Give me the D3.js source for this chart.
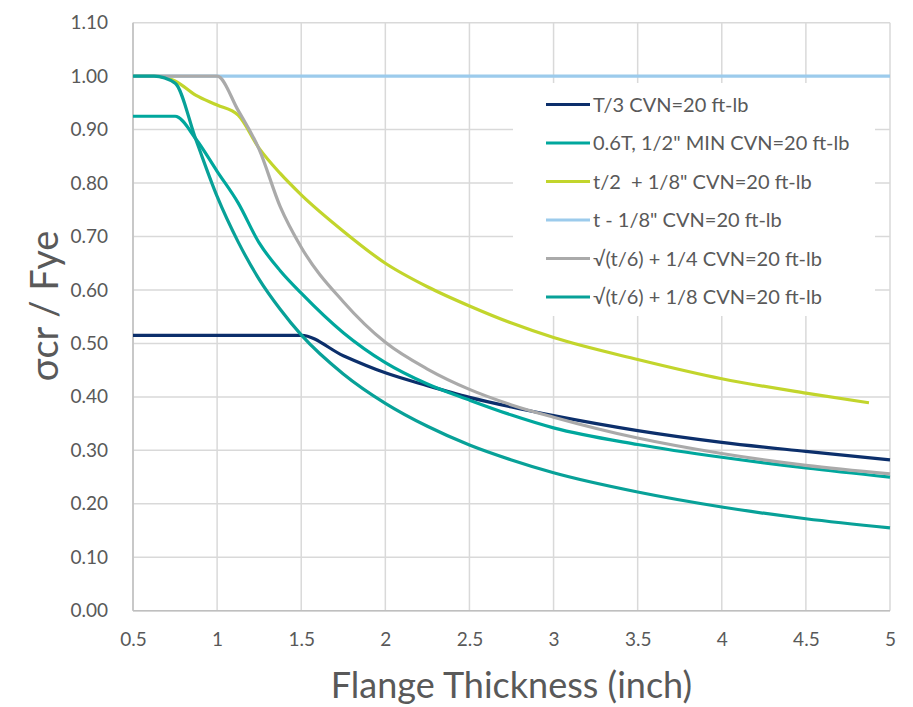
<!DOCTYPE html>
<html>
<head>
<meta charset="utf-8">
<script src="https://cdn.jsdelivr.net/npm/d3@7"></script>
<style>
  body { margin: 0; background: #fff; }
  text { font-family: Lato, "Noto Sans", sans-serif; fill: #595959; white-space: pre; }
</style>
</head>
<body>
<div id="chart"></div>
<script>
// values
const seriesNames = [
  "T/3 CVN=20 ft-lb",
  "0.6T, 1/2\" MIN CVN=20 ft-lb",
  "t/2  + 1/8\" CVN=20 ft-lb",
  "t - 1/8\" CVN=20 ft-lb",
  "\u221A(t/6) + 1/4 CVN=20 ft-lb",
  "\u221A(t/6) + 1/8 CVN=20 ft-lb"
];
const seriesColors = ["#0c2f6b", "#00a79d", "#c2d52c", "#9ccbec", "#aaaaaa", "#08a198"];

const tT3 = [0.5, 0.75, 1, 1.25, 1.5, 1.75, 2, 2.25, 2.5, 2.75, 3, 3.5, 4, 4.5, 5];
const vT3 = [0.515, 0.515, 0.515, 0.515, 0.515, 0.477, 0.445, 0.421, 0.399, 0.381, 0.365, 0.337, 0.315, 0.298, 0.282];

const t06T = [0.5, 0.625, 0.75, 0.875, 1, 1.125, 1.25, 1.375, 1.5, 1.75, 2, 2.25, 2.5, 2.75, 3, 3.5, 4, 4.5, 5];
const v06T = [0.925, 0.925, 0.925, 0.882, 0.822, 0.763, 0.688, 0.636, 0.594, 0.52, 0.464, 0.424, 0.394, 0.366, 0.342, 0.311, 0.287, 0.267, 0.25];

const tHalf = [0.5, 0.625, 0.75, 0.875, 1, 1.125, 1.25, 1.375, 1.5, 1.75, 2, 2.25, 2.5, 2.75, 3, 3.5, 4, 4.5, 4.875];
const vHalf = [1, 1, 0.991, 0.964, 0.946, 0.927, 0.865, 0.818, 0.778, 0.71, 0.65, 0.606, 0.57, 0.538, 0.511, 0.47, 0.434, 0.407, 0.389];

const tMinus = [0.5, 5];
const vMinus = [1, 1];

const tSqrt4 = [0.5, 0.625, 0.75, 0.875, 1, 1.125, 1.25, 1.375, 1.5, 1.75, 2, 2.25, 2.5, 2.75, 3, 3.5, 4, 4.5, 5];
const vSqrt4 = [1, 1, 1, 1, 1, 0.936, 0.863, 0.756, 0.68, 0.578, 0.502, 0.452, 0.414, 0.385, 0.362, 0.323, 0.294, 0.272, 0.256];

const tSqrt8 = [0.5, 0.625, 0.75, 0.875, 1, 1.125, 1.25, 1.375, 1.5, 1.75, 2, 2.25, 2.5, 2.75, 3, 3.5, 4, 4.5, 5];
const vSqrt8 = [1, 1, 0.987, 0.88, 0.775, 0.69, 0.62, 0.564, 0.516, 0.443, 0.388, 0.345, 0.31, 0.282, 0.258, 0.222, 0.194, 0.172, 0.155];

const xTicks = [0.5, 1, 1.5, 2, 2.5, 3, 3.5, 4, 4.5, 5];
const yTicks = [0, 0.1, 0.2, 0.3, 0.4, 0.5, 0.6, 0.7, 0.8, 0.9, 1.0, 1.1];

const allT = [tT3, t06T, tHalf, tMinus, tSqrt4, tSqrt8];
const allV = [vT3, v06T, vHalf, vMinus, vSqrt4, vSqrt8];

// chart size and margins
const W = 913, H = 707;
const margin = { top: 22.7, right: 23, bottom: 96.3, left: 133 },
    width = W - margin.left - margin.right,
    height = H - margin.top - margin.bottom;

const svg = d3.select("#chart").append("svg")
    .attr("width", W)
    .attr("height", H);

const g = svg.append("g")
    .attr("transform", `translate(${margin.left}, ${margin.top})`);

const x = d3.scaleLinear().domain([0.5, 5]).range([0, width]);
const y = d3.scaleLinear().domain([0, 1.1]).range([height, 0]);

// gridlines
g.append("g")
    .selectAll("line")
    .data(yTicks)
    .join("line")
    .attr("x1", 0).attr("x2", width)
    .attr("y1", d => y(d)).attr("y2", d => y(d))
    .attr("stroke", "#d9d9d9")
    .attr("stroke-width", 1.5);

g.append("g")
    .selectAll("line")
    .data(xTicks)
    .join("line")
    .attr("x1", d => x(d)).attr("x2", d => x(d))
    .attr("y1", 0).attr("y2", height)
    .attr("stroke", "#d9d9d9")
    .attr("stroke-width", 1.5);

// axis lines
g.append("line").attr("x1", 0).attr("x2", 0).attr("y1", 0).attr("y2", height)
    .attr("stroke", "#bfbfbf").attr("stroke-width", 1.5);
g.append("line").attr("x1", 0).attr("x2", width).attr("y1", height).attr("y2", height)
    .attr("stroke", "#bfbfbf").attr("stroke-width", 1.5);

// tick labels
const yAxis = g.append("g")
    .call(d3.axisLeft(y).tickValues(yTicks).tickSize(0).tickPadding(25).tickFormat(d3.format(".2f")));
yAxis.select(".domain").remove();
yAxis.selectAll("text").attr("font-size", "19px").attr("fill", "#595959")
    .style("font-family", "Lato, sans-serif");

const xAxis = g.append("g")
    .attr("transform", `translate(0, ${height})`)
    .call(d3.axisBottom(x).tickValues(xTicks).tickSize(0).tickPadding(22).tickFormat(d => d));
xAxis.select(".domain").remove();
xAxis.selectAll("text").attr("font-size", "19px").attr("fill", "#595959")
    .style("font-family", "Lato, sans-serif");

// legend background (covers gridlines)
const legend = svg.append("g");
legend.append("rect")
    .attr("x", 513).attr("y", 83)
    .attr("width", 362).attr("height", 233)
    .attr("fill", "#fff");

// series lines
const line = d3.line()
    .x(d => x(d[0]))
    .y(d => y(d[1]))
    .curve(d3.curveMonotoneX);

allT.forEach((ts, i) => {
    const pts = ts.map((t, j) => [t, allV[i][j]]);
    g.append("path")
        .datum(pts)
        .attr("d", line)
        .attr("fill", "none")
        .attr("stroke", seriesColors[i])
        .attr("stroke-width", 3.2)
        .attr("stroke-linejoin", "round");
});

// legend items
seriesNames.forEach((name, i) => {
    const cy = 104.5 + i * 38.5;
    legend.append("line")
        .attr("x1", 546).attr("x2", 590)
        .attr("y1", cy).attr("y2", cy)
        .attr("stroke", seriesColors[i])
        .attr("stroke-width", 3.2);
    legend.append("text")
        .attr("x", 593).attr("y", cy)
        .attr("dy", "0.35em")
        .attr("font-size", "20px")
        .text(name);
});

// axis titles
svg.append("text")
    .attr("x", margin.left + width / 2)
    .attr("y", 698)
    .attr("text-anchor", "middle")
    .attr("font-size", "36px")
    .text("Flange Thickness (inch)");

svg.append("text")
    .attr("transform", `translate(58, 306) rotate(-90)`)
    .attr("text-anchor", "middle")
    .attr("font-size", "38px")
    .text("\u03C3cr / Fye");
</script>
</body>
</html>
